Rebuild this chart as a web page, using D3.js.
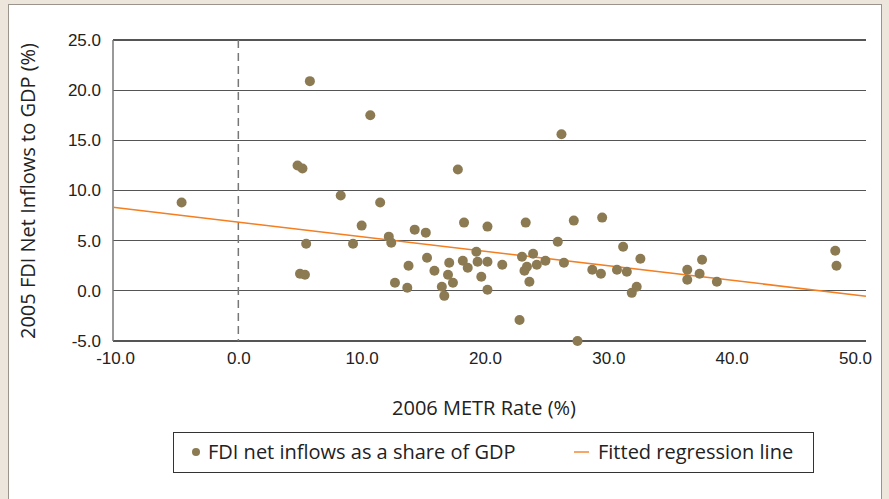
<!DOCTYPE html>
<meta charset="utf-8">
<style>
body { margin: 0; background: #ece6dc; }
svg { display: block; font-family: "Open Sans", "Liberation Sans", sans-serif; }
.grid line { stroke: #555; stroke-width: 1.2px; shape-rendering: crispEdges; }
.tick text { font-size: 17px; fill: #222; }
</style>
<body>
<div id="chart"></div>
</body>
<script src="https://d3js.org/d3.v7.min.js"></script>
<script>

// METR rate (%) and FDI net inflows (% of GDP)
var metr = [-4.6, 4.8, 5.2, 5.8, 10.7, 8.3, 11.5, 5.5, 5.0, 5.4,
            10.0, 9.3, 12.2, 12.4, 14.3, 15.2, 13.8, 12.7, 13.7, 15.3,
            15.9, 16.5, 16.7, 17.0, 17.4, 17.1, 17.8, 18.2, 18.3, 18.6,
            19.3, 19.4, 19.7, 20.2, 20.2, 20.2, 21.4, 22.8, 23.0, 23.2,
            23.3, 23.4, 23.6, 23.9, 24.2, 24.9, 25.9, 26.2, 26.4, 27.2,
            27.5, 28.7, 29.4, 29.5, 30.7, 31.2, 31.5, 31.9, 32.3, 32.6,
            36.4, 36.4, 37.4, 37.6, 38.8, 48.4, 48.5];
var fdi  = [8.8, 12.5, 12.2, 20.9, 17.5, 9.5, 8.8, 4.7, 1.7, 1.6,
            6.5, 4.7, 5.4, 4.8, 6.1, 5.8, 2.5, 0.8, 0.3, 3.3,
            2.0, 0.4, -0.5, 1.6, 0.8, 2.8, 12.1, 3.0, 6.8, 2.3,
            3.9, 2.9, 1.4, 6.4, 2.9, 0.1, 2.6, -2.9, 3.4, 2.0,
            6.8, 2.4, 0.9, 3.7, 2.6, 3.0, 4.9, 15.6, 2.8, 7.0,
            -5.0, 2.1, 1.7, 7.3, 2.1, 4.4, 1.9, -0.2, 0.4, 3.2,
            2.1, 1.1, 1.7, 3.1, 0.9, 4.0, 2.5];

// fitted regression line
var fitIntercept = 6.85, fitSlope = -0.145;

var xTicks = [-10, 0, 10, 20, 30, 40, 50];
var yTicks = [-5, 0, 5, 10, 15, 20, 25];

var W = 889, H = 499;
var x = d3.scaleLinear().domain([-10, 50]).range([115, 855]);
var y = d3.scaleLinear().domain([-5, 25]).range([341, 40]);
var xMin = x.invert(113), xMax = x.invert(866);

// plain hyphen for negatives, like the original
var fmt = function(d) { return d3.format(".1f")(d).replace("\u2212", "-"); };

var svg = d3.select("#chart").append("svg")
    .attr("width", W)
    .attr("height", H);

svg.append("rect")
    .attr("x", 8.5).attr("y", 4.5)
    .attr("width", 873).attr("height", 510)
    .attr("fill", "#fff")
    .attr("stroke", "#9a948c");

// horizontal gridlines
svg.append("g")
    .attr("class", "grid")
  .selectAll("line")
    .data(yTicks)
  .enter().append("line")
    .attr("x1", x(xMin)).attr("x2", x(xMax))
    .attr("y1", function(d) { return y(d); })
    .attr("y2", function(d) { return y(d); });

// left axis line
svg.append("line")
    .attr("x1", x(xMin)).attr("x2", x(xMin))
    .attr("y1", y(25)).attr("y2", y(-5))
    .attr("stroke", "#777").attr("stroke-width", 1.5);

// dashed zero line
svg.append("line")
    .attr("x1", x(0)).attr("x2", x(0))
    .attr("y1", y(25)).attr("y2", y(-5))
    .attr("stroke", "#777").attr("stroke-width", 1.5)
    .attr("stroke-dasharray", "8,5");

// axes (labels only)
var yAxis = d3.axisLeft(y).tickValues(yTicks).tickSize(0).tickPadding(12)
    .tickFormat(fmt);
svg.append("g")
    .attr("transform", "translate(" + x(xMin) + ",0)")
    .call(yAxis)
    .call(function(g) { g.select(".domain").remove(); });

var xAxis = d3.axisBottom(x).tickValues(xTicks).tickSize(0).tickPadding(11)
    .tickFormat(fmt);
svg.append("g")
    .attr("transform", "translate(0," + y(-5) + ")")
    .call(xAxis)
    .call(function(g) { g.select(".domain").remove(); });

svg.selectAll(".tick text").attr("fill", "#222");

// regression line
svg.append("line")
    .attr("x1", x(xMin)).attr("y1", y(fitIntercept + fitSlope * xMin))
    .attr("x2", x(xMax)).attr("y2", y(fitIntercept + fitSlope * xMax))
    .attr("stroke", "#f47e20").attr("stroke-width", 1.5);

// points
svg.append("g")
  .selectAll("circle")
    .data(metr)
  .enter().append("circle")
    .attr("cx", function(d) { return x(d); })
    .attr("cy", function(d, i) { return y(fdi[i]); })
    .attr("r", 5)
    .attr("fill", "#8c7a53");

// axis titles
svg.append("text")
    .attr("x", 484).attr("y", 415)
    .attr("text-anchor", "middle")
    .attr("font-size", 20)
    .attr("fill", "#222")
    .text("2006 METR Rate (%)");

svg.append("text")
    .attr("transform", "translate(35,191) rotate(-90)")
    .attr("text-anchor", "middle")
    .attr("font-size", 20)
    .attr("fill", "#222")
    .text("2005 FDI Net Inflows to GDP (%)");

// legend
var legend = svg.append("g");
legend.append("rect")
    .attr("x", 173.5).attr("y", 432.5)
    .attr("width", 640).attr("height", 40)
    .attr("fill", "#fff").attr("stroke", "#333");
legend.append("circle")
    .attr("cx", 196).attr("cy", 452).attr("r", 4)
    .attr("fill", "#8c7a53");
legend.append("text")
    .attr("x", 208).attr("y", 459)
    .attr("font-size", 20).attr("fill", "#222")
    .text("FDI net inflows as a share of GDP");
legend.append("line")
    .attr("x1", 574).attr("x2", 589)
    .attr("y1", 452).attr("y2", 452)
    .attr("stroke", "#f7a66a").attr("stroke-width", 2);
legend.append("text")
    .attr("x", 598).attr("y", 459)
    .attr("font-size", 20).attr("fill", "#222")
    .text("Fitted regression line");

</script>
